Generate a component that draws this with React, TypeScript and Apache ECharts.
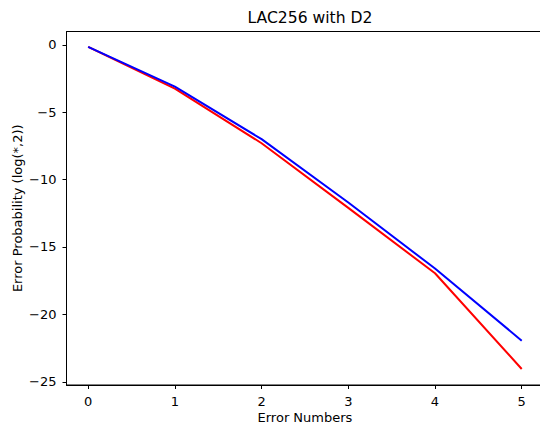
import React, { useEffect, useRef } from "react";
import * as echarts from "echarts";

const errorNumbers = [0, 1, 2, 3, 4, 5];
const redValues = [-0.15, -3.25, -7.3, -12.1, -16.95, -24.05];
const blueValues = [-0.15, -3.1, -7.0, -11.7, -16.6, -21.95];
const titleText = "LAC256 with D2";
const xName = "Error Numbers";
const yName = "Error Probability (log(*,2))";

const FONT = "DejaVu Sans";
const fmt = (v: number) => (v < 0 ? "\u2212" + String(-v) : String(v));

export default function App() {
  const ref = useRef<HTMLDivElement>(null);
  useEffect(() => {
    if (!ref.current) return;
    const chart = echarts.init(ref.current, undefined, { renderer: "svg" });
    const axisCommon = {
      type: "value" as const,
      splitLine: { show: false },
      axisLine: { show: true, onZero: false, lineStyle: { color: "#000", width: 1 } },
      axisTick: { show: true, inside: false, length: 4, lineStyle: { color: "#000", width: 1 } },
      axisLabel: {
        showMinLabel: false,
        showMaxLabel: false,
        color: "#000",
        fontFamily: FONT,
        fontSize: 13,
        formatter: fmt,
      },
      nameTextStyle: { color: "#000", fontFamily: FONT, fontSize: 13, lineHeight: 13 },
      nameLocation: "middle" as const,
      nameMoveOverlap: false,
    };
    chart.setOption({
      animation: false,
      backgroundColor: "#fff",
      title: {
        text: titleText,
        left: 305,
        top: 5,
        textAlign: "center",
        textStyle: { color: "#000", fontFamily: FONT, fontSize: 15.6, fontWeight: "normal" },
      },
      grid: {
        left: 66.5,
        top: 31.5,
        right: 16.6,
        bottom: 40,
        outerBoundsMode: "none",
        containLabel: false,
        show: true,
        borderColor: "#000",
        borderWidth: 1,
        backgroundColor: "transparent",
      },
      xAxis: {
        ...axisCommon,
        min: -0.25,
        max: 5.25,
        splitNumber: 5,
        name: xName,
        nameGap: 26,
        axisLabel: { ...axisCommon.axisLabel, margin: 10 },
      },
      yAxis: {
        ...axisCommon,
        min: -25.24,
        max: 0.99,
        splitNumber: 5,
        name: yName,
        nameGap: 43,
        axisLabel: { ...axisCommon.axisLabel, margin: 10 },
      },
      series: [
        {
          type: "line",
          data: errorNumbers.map((x, i) => [x, redValues[i]]),
          showSymbol: false,
          lineStyle: { color: "#ff0000", width: 2 },
          itemStyle: { color: "#ff0000" },
        },
        {
          type: "line",
          data: errorNumbers.map((x, i) => [x, blueValues[i]]),
          showSymbol: false,
          lineStyle: { color: "#0000ff", width: 2 },
          itemStyle: { color: "#0000ff" },
        },
      ],
    });
    return () => chart.dispose();
  }, []);
  return (
    <div
      style={{
        position: "absolute",
        left: 0,
        top: 0,
        width: 540,
        height: 425,
        overflow: "hidden",
        background: "#fff",
      }}
    >
      <div ref={ref} style={{ width: 560, height: 425 }} />
    </div>
  );
}
